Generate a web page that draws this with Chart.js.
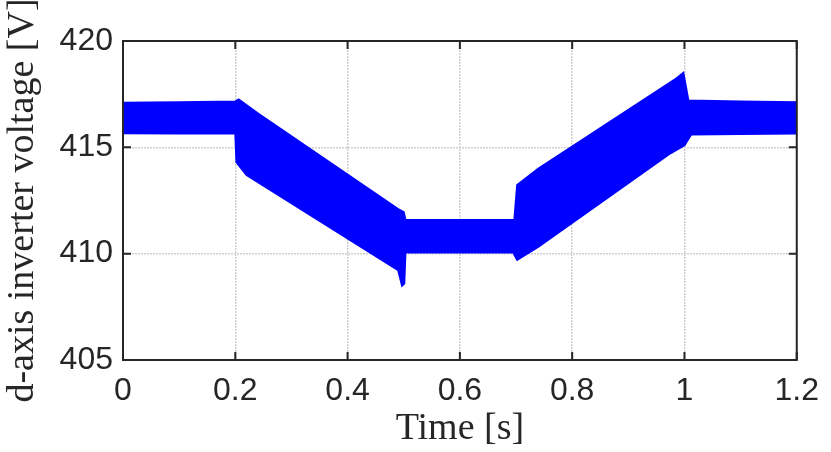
<!DOCTYPE html>
<html>
<head>
<meta charset="utf-8">
<script src="https://cdn.jsdelivr.net/npm/chart.js@4.4.1/dist/chart.umd.min.js"></script>
<style>
  html, body { margin: 0; padding: 0; background: #fff; }
  #wrap { width: 831px; height: 452px; }
</style>
</head>
<body>
<div id="wrap"><canvas id="c" width="831" height="452"></canvas></div>
<script>
// upper and lower envelope of the d-axis voltage band
const upperTime = [0, 0.1, 0.2, 0.206, 0.24, 0.49, 0.5, 0.503, 0.6, 0.697, 0.702, 0.74, 0.986, 0.998, 1.007, 1.1, 1.2]
const upperVolt = [417.1, 417.12, 417.15, 417.25, 416.6, 412.1, 411.95, 411.6, 411.58, 411.58, 413.23, 414.0, 418.25, 418.5, 417.2, 417.15, 417.12]

const lowerTime = [0, 0.1, 0.2, 0.202, 0.22, 0.49, 0.497, 0.501, 0.503, 0.6, 0.695, 0.702, 0.74, 0.975, 1.0, 1.012, 1.1, 1.2]
const lowerVolt = [415.66, 415.65, 415.65, 414.3, 413.7, 409.23, 408.5, 408.6, 410.05, 410.05, 410.05, 409.71, 410.33, 414.72, 415.1, 415.6, 415.63, 415.65]

const xTicks = [0, 0.2, 0.4, 0.6, 0.8, 1, 1.2]
const yTicks = [405, 410, 415, 420]

const toPts = (xs, ys) => xs.map((x, i) => ({ x: x, y: ys[i] }))

const frame = {
  id: "frame",
  afterDraw(chart) {
    const { ctx, chartArea: a, scales } = chart
    ctx.save()
    ctx.strokeStyle = "#262626"
    ctx.lineWidth = 2
    ctx.strokeRect(a.left, a.top, a.right - a.left, a.bottom - a.top)
    ctx.beginPath()
    const len = 8
    xTicks.forEach(v => {
      const px = scales.x.getPixelForValue(v)
      ctx.moveTo(px, a.bottom); ctx.lineTo(px, a.bottom - len)
      ctx.moveTo(px, a.top); ctx.lineTo(px, a.top + len)
    })
    yTicks.forEach(v => {
      const py = scales.y.getPixelForValue(v)
      ctx.moveTo(a.left, py); ctx.lineTo(a.left + len, py)
      ctx.moveTo(a.right, py); ctx.lineTo(a.right - len, py)
    })
    ctx.stroke()
    ctx.restore()
  }
}

const tickFont = { family: "'Liberation Sans', Arial, sans-serif", size: 32 }
const titleFont = { family: "'Liberation Serif', 'Times New Roman', serif", size: 38 }
const gridStyle = { color: "#cfcfcf", lineWidth: 1.5, drawTicks: false }

new Chart(document.getElementById("c"), {
  type: "line",
  data: {
    datasets: [
      {
        data: toPts(upperTime, upperVolt),
        borderColor: "#0000ff",
        backgroundColor: "#0000ff",
        borderWidth: 2,
        pointRadius: 0,
        tension: 0,
        fill: "+1"
      },
      {
        data: toPts(lowerTime, lowerVolt),
        borderColor: "#0000ff",
        borderWidth: 2,
        pointRadius: 0,
        tension: 0,
        fill: false
      }
    ]
  },
  options: {
    responsive: false,
    animation: false,
    layout: { padding: { top: 41, right: 26, left: 0, bottom: 0 } },
    plugins: { legend: { display: false }, tooltip: { enabled: false } },
    scales: {
      x: {
        type: "linear",
        min: 0,
        max: 1.2,
        afterBuildTicks: s => { s.ticks = xTicks.map(v => ({ value: v })) },
        afterFit: s => { s.height = 92 },
        grid: gridStyle,
        border: { display: false, dash: [2, 1] },
        ticks: {
          font: tickFont,
          color: "#262626",
          padding: 12,
          maxRotation: 0,
          callback: v => String(v)
        },
        title: {
          display: true,
          text: "Time [s]",
          font: titleFont,
          color: "#262626",
          padding: { top: 0, bottom: 0 }
        }
      },
      y: {
        min: 405,
        max: 420,
        afterBuildTicks: s => { s.ticks = yTicks.map(v => ({ value: v })) },
        afterFit: s => { s.width = 123 },
        grid: gridStyle,
        border: { display: false, dash: [2, 1] },
        ticks: {
          font: tickFont,
          color: "#262626",
          padding: 10,
          callback: v => String(v)
        },
        title: {
          display: true,
          text: "d-axis inverter voltage [V]",
          font: titleFont,
          color: "#262626",
          padding: { top: 0, bottom: 0 }
        }
      }
    }
  },
  plugins: [frame]
})
</script>
</body>
</html>
